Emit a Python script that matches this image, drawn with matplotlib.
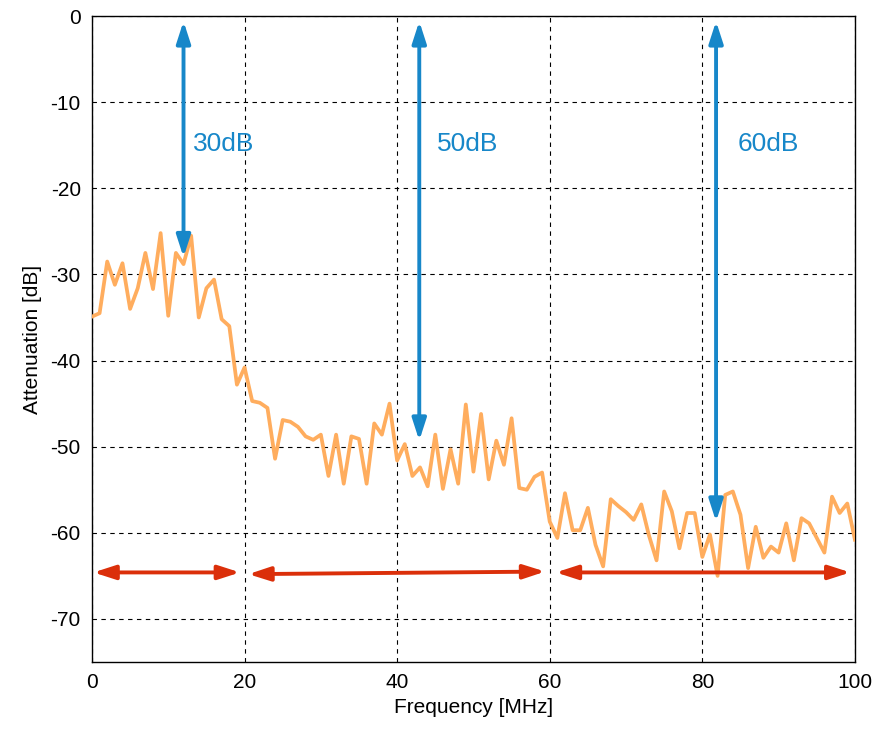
import matplotlib.pyplot as plt

freq = list(range(0, 101))
atten = [-34.9, -34.5, -28.5, -31.2, -28.7, -34.0, -31.6, -27.5, -31.7, -25.2,
         -34.8, -27.5, -28.8, -25.5, -35.0, -31.6, -30.6, -35.2, -36.0, -42.8,
         -40.8, -44.7, -44.9, -45.5, -51.4, -46.9, -47.1, -47.7, -48.8, -49.2,
         -48.6, -53.4, -48.6, -54.3, -48.8, -49.1, -54.3, -47.3, -48.6, -45.0,
         -51.6, -49.7, -53.4, -52.4, -54.6, -48.6, -54.9, -50.3, -54.3, -45.1,
         -52.9, -46.2, -53.8, -49.3, -52.1, -46.7, -54.8, -55.0, -53.5, -53.0,
         -58.7, -60.6, -55.4, -59.7, -59.7, -57.1, -61.4, -63.9, -56.1, -56.9,
         -57.6, -58.5, -56.7, -60.3, -63.2, -55.2, -57.5, -61.8, -57.7, -57.7,
         -62.8, -60.2, -65.0, -55.6, -55.2, -57.9, -64.1, -59.3, -62.9, -61.6,
         -62.3, -58.9, -63.2, -58.3, -58.9, -60.6, -62.3, -55.8, -57.7, -56.6,
         -60.8]

# blue vertical arrows: x, bottom value, label
blue_x = [12, 42.9, 81.8]
blue_bottom = [-28.0, -49.3, -58.7]
blue_labels = ['30dB', '50dB', '60dB']
label_x = [13.2, 45.2, 84.6]

# red horizontal arrows (start, end, y start, y end)
red_start = [0.2, 20.5, 60.8]
red_end = [19.4, 59.4, 99.4]
red_y0 = [-64.6, -64.8, -64.6]
red_y1 = [-64.6, -64.5, -64.6]

plt.rcParams['font.family'] = ['Liberation Sans', 'DejaVu Sans']
plt.rcParams['axes.unicode_minus'] = False

fig = plt.figure(figsize=(8.8, 7.31), dpi=100)
ax = fig.add_axes([0.1045, 0.0944, 0.867, 0.8836])

ax.plot(freq, atten, color='#ffad5e', linewidth=2.7, zorder=3)

blue = '#1787c9'
red = '#db2f0a'
astyle = '<|-|>,head_length=1.3,head_width=0.42'
for x, yb, lab, lx in zip(blue_x, blue_bottom, blue_labels, label_x):
    ax.annotate('', xy=(x, -0.6), xytext=(x, yb),
                arrowprops=dict(arrowstyle=astyle, color=blue, lw=2.8,
                                shrinkA=0, shrinkB=0),
                zorder=4)
    ax.text(lx, -14.8, lab, color=blue, fontsize=19, va='center', ha='left')

for x0, x1, y0, y1 in zip(red_start, red_end, red_y0, red_y1):
    ax.annotate('', xy=(x1, y1), xytext=(x0, y0),
                arrowprops=dict(arrowstyle=astyle, color=red, lw=2.8,
                                shrinkA=0, shrinkB=0),
                zorder=4)

ax.set_xlim(0, 100)
ax.set_ylim(-75, 0)
ax.set_xticks([0, 20, 40, 60, 80, 100])
ax.set_yticks([-70, -60, -50, -40, -30, -20, -10, 0])
ax.tick_params(length=0, labelsize=15, pad=8)
ax.grid(True, color='black', linestyle=(0, (4, 4)), linewidth=0.8)
for s in ax.spines.values():
    s.set_linewidth(1.0)
ax.set_xlabel('Frequency [MHz]', fontsize=15, labelpad=4)
ax.set_ylabel('Attenuation [dB]', fontsize=15, labelpad=6)

fig.savefig('out.png')
plt.close(fig)
